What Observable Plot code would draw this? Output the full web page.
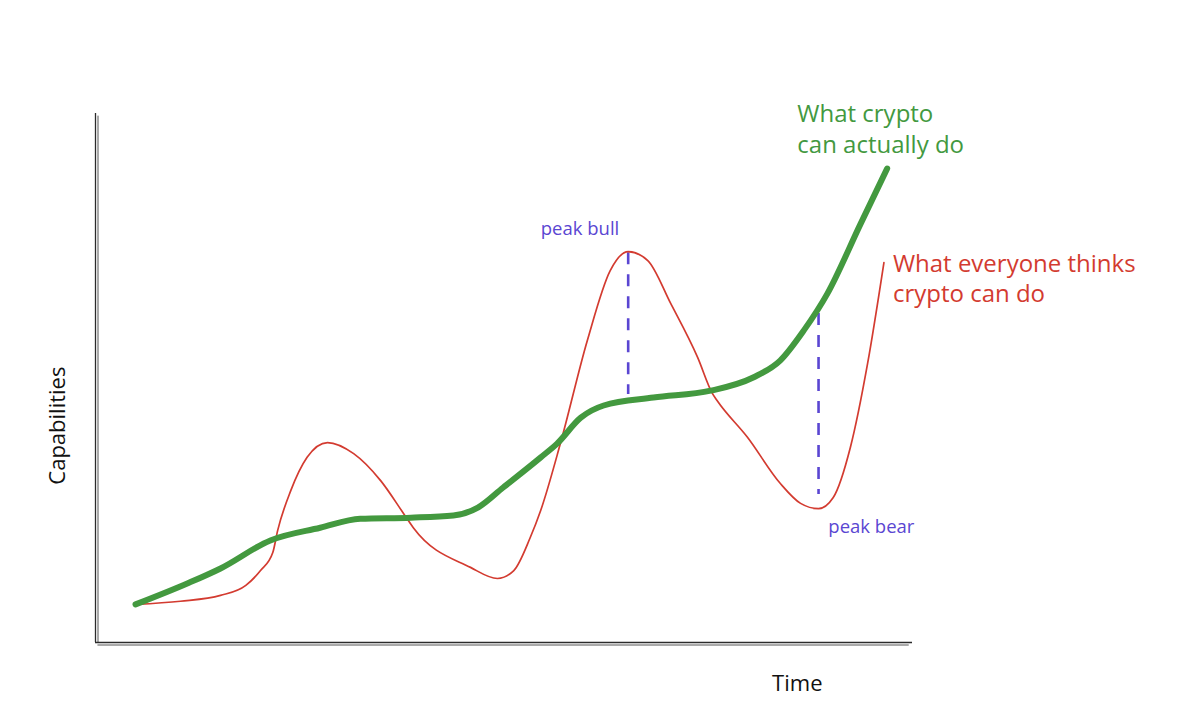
<!DOCTYPE html>
<html>
<head>
<meta charset="utf-8">
<script src="https://cdn.jsdelivr.net/npm/d3@7"></script>
<script src="https://cdn.jsdelivr.net/npm/@observablehq/plot@0.6"></script>
<style>
  html, body { margin: 0; padding: 0; background: #ffffff; }
  #chart svg { display: block; }
</style>
</head>
<body>
<div id="chart"></div>
<script>
// Time (0-100) and capability (0-100)
const actualTime = [4.9, 11.3, 15.3, 21.4, 27.5, 32.4, 38.6, 43.8, 46.8, 49.9, 54.5, 56.5, 59.4, 62.2, 68.3, 75.3, 80.5, 83.8, 86.7, 89.6, 93.6, 96.9];
const actualCap  = [7.2, 11.2, 14.0, 19.3, 21.7, 23.4, 23.6, 24.0, 25.5, 29.3, 35.0, 37.6, 42.5, 44.8, 46.3, 47.6, 50.1, 53.3, 59.0, 66.0, 79.0, 89.6];

const perceivedTime = [4.9, 10.4, 15.3, 18.4, 20.2, 21.7, 22.3, 23.9, 25.9, 28.4, 31.6, 34.9, 37.7, 38.9, 45.9, 49.2, 51.2, 53.2, 54.5, 56.9, 60.2, 63.0, 65.2, 67.6, 70.4, 73.7, 75.5, 76.1, 79.8, 83.8, 86.3, 88.5, 90.3, 92.4, 94.5, 96.5];
const perceivedCap  = [7.2, 7.8, 8.9, 10.8, 13.6, 17.0, 21.2, 28.7, 35.0, 37.8, 35.7, 30.6, 24.4, 21.7, 14.2, 12.1, 13.6, 19.8, 25.0, 37.6, 57.1, 70.3, 73.9, 72.2, 64.1, 53.9, 47.1, 45.7, 38.8, 30.1, 26.3, 25.3, 27.4, 36.9, 52.7, 71.8];

// Gap markers (peak bull / peak bear)
const gapNames = ["peak bull", "peak bear"];
const gapTime  = [65.2, 88.5];
const gapTop   = [73.7, 62.2];
const gapBottom = [46.9, 28.0];

// Annotation texts
const gapLabels = ["peak bull", "peak bear"];
const gapLabelTime = [54.5, 89.7];
const gapLabelCap  = [78.1, 21.9];

const seriesLabels = ["What crypto\ncan actually do", "What everyone thinks\ncrypto can do"];
const seriesLabelTime = [85.9, 97.6];
const seriesLabelCap  = [102.5, 74.2];

const xTitle = "Time";
const yTitle = "Capabilities";

const GREEN = "#43993f";
const RED = "#d33b30";
const VIOLET = "#5a46d2";
const INK = "#2b2b2b";
const FONT = "'Open Sans', Lato, sans-serif";

const actual = actualTime.map((t, i) => ({t, v: actualCap[i]}));
const perceived = perceivedTime.map((t, i) => ({t, v: perceivedCap[i]}));
const gaps = gapNames.map((n, i) => ({n, t: gapTime[i], y1: gapTop[i], y2: gapBottom[i]}));
const gapText = gapLabels.map((s, i) => ({s, t: gapLabelTime[i], v: gapLabelCap[i]}));
const seriesText = seriesLabels.map((s, i) => ({s, t: seriesLabelTime[i], v: seriesLabelCap[i], c: i === 0 ? GREEN : RED}));

const chart = Plot.plot({
  width: 1199,
  height: 725,
  marginLeft: 95,
  marginRight: 287,
  marginTop: 113,
  marginBottom: 83,
  x: {domain: [0, 100], axis: null},
  y: {domain: [0, 100], axis: null},
  style: {background: "#ffffff", overflow: "visible", fontFamily: FONT},
  marks: [
    // sketchy double axes
    Plot.ruleX([0], {y1: 0, y2: 100, stroke: INK, strokeWidth: 1.3}),
    Plot.ruleX([0], {y1: 0, y2: 99.5, stroke: INK, strokeWidth: 1, dx: 2.5, strokeOpacity: 0.8}),
    Plot.ruleY([0], {x1: 0, x2: 100, stroke: INK, strokeWidth: 1.3}),
    Plot.ruleY([0], {x1: 0.3, x2: 99.6, stroke: INK, strokeWidth: 1, dy: 2.5, strokeOpacity: 0.8}),
    // gap markers
    Plot.ruleX(gaps, {x: "t", y1: "y1", y2: "y2", stroke: VIOLET, strokeWidth: 2.6, strokeDasharray: "12,10"}),
    // series
    Plot.line(perceived, {x: "t", y: "v", curve: "monotone-x", stroke: RED, strokeWidth: 1.7}),
    Plot.line(actual, {x: "t", y: "v", curve: "monotone-x", stroke: GREEN, strokeWidth: 6, strokeLinecap: "round"}),
    // labels
    Plot.text(gapText, {x: "t", y: "v", text: "s", textAnchor: "start", fill: VIOLET, fontSize: 18.5}),
    Plot.text(seriesText, {x: "t", y: "v", text: "s", textAnchor: "start", lineAnchor: "top", fill: "c", fontSize: 24, lineHeight: 1.28}),
    Plot.text([xTitle], {x: 85.9, y: -7.9, text: d => d, fill: "#111", fontSize: 22}),
    Plot.text([yTitle], {x: -4.65, y: 41, text: d => d, fill: "#111", fontSize: 22, rotate: -90})
  ]
});
document.getElementById("chart").appendChild(chart);
</script>
</body>
</html>
